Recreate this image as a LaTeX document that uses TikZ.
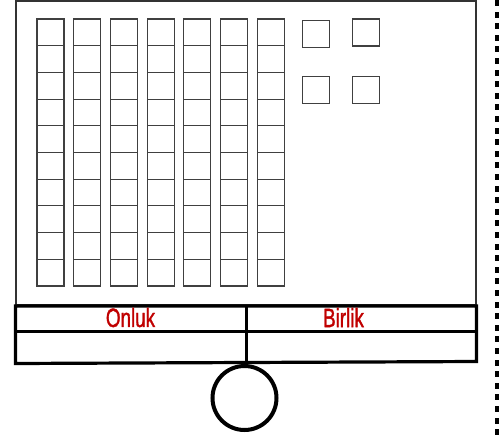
\documentclass[tikz,border=0pt]{standalone}
\usepackage{fontspec}
\setmainfont{Liberation Sans}
\newfontfamily\labelfont[FakeBold=1.6]{Liberation Sans}
\definecolor{labelred}{HTML}{C00000}
\newcommand{\narrowlabel}[1]{\scalebox{0.71}[1]{#1}}
\tikzset{
  cell/.style={draw=black!75,line width=1.1pt},
  rule/.style={draw=black,line width=3.2pt},
  label/.style={text=labelred,font=\labelfont\fontsize{26.5}{28}\selectfont,inner sep=0pt}
}
\begin{document}
\begin{tikzpicture}[x=1pt,y=-1pt]
  \useasboundingbox (0,0) rectangle (499,437);
  % outer frame
  \draw[draw=black!80,line width=2pt] (16,1) -- (476,1) -- (476,305) -- (16,305) -- cycle;
  % ten rods
  \foreach \c in {0,...,6}
    \foreach \r in {0,...,9}
      \draw[cell] ({37+36.7*\c},{19+26.7*\r}) rectangle ++(27,26.7);
  % units
  \foreach \ux/\uy in {302.5/20.5,352.5/19,302.5/76.5,352.5/76.5}
    \draw[cell] (\ux,\uy) rectangle ++(27,27);
  % place value table
  \draw[rule] (15.5,306) -- (476.5,306) -- (476.5,361.5) -- (15.5,363.5) -- cycle;
  \draw[rule] (15.5,331.5) -- (476.5,331.5);
  \draw[rule] (246.5,306) -- (246.5,362.5);
  \node[label] (onluk) at (130.5,317.5) {\narrowlabel{Onluk}};
  \node[label] (birlik) at (343.5,317.5) {\narrowlabel{Birlik}};
  \draw[line width=4pt] (244.5,398) circle (32);
  % cutting line
  \draw[line width=4.5pt,dash pattern=on 6pt off 5.6pt] (497.5,0) -- (497.5,437);
\end{tikzpicture}
\end{document}
